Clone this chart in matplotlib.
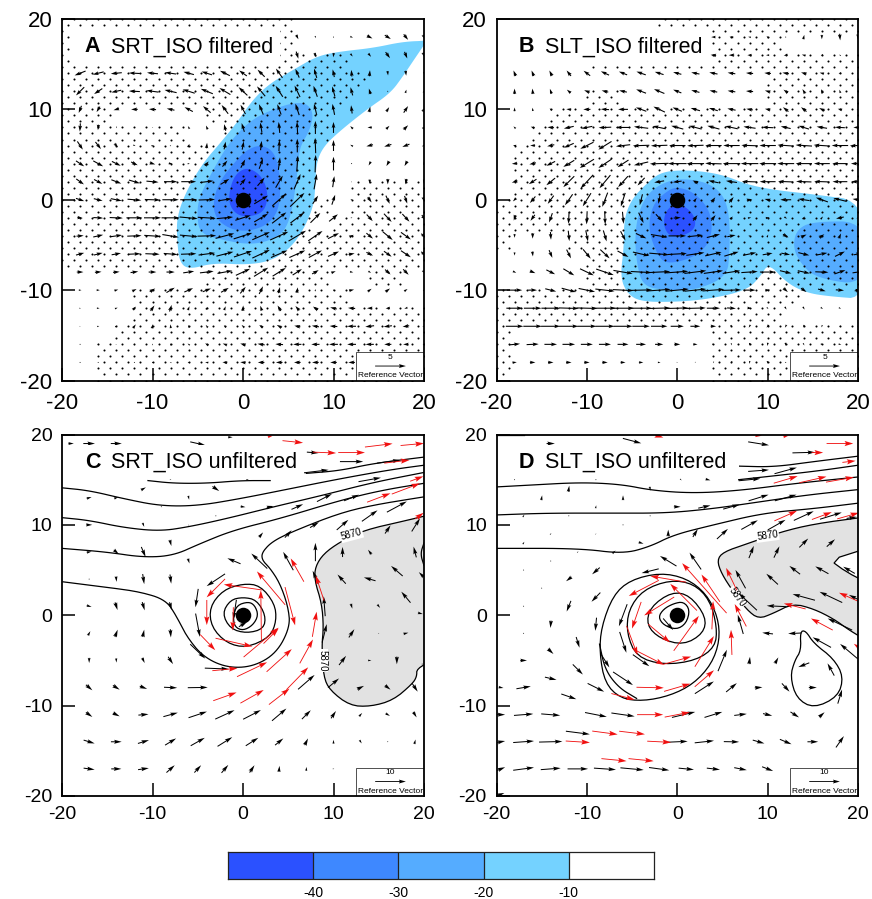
#!/usr/bin/python
import matplotlib
matplotlib.use("Agg")
import matplotlib.pyplot as plt
import numpy as np
from matplotlib.colors import ListedColormap

plt.rcParams["font.family"] = ["Liberation Sans", "DejaVu Sans"]
plt.rcParams["axes.unicode_minus"] = False

COLORS = ["#2B51FF", "#3E88FF", "#55ACFF", "#74D2FF", "white"]
CBAR_LEVELS = [-40, -30, -20, -10]

# filtered wind, rows y = 18..-18, columns x = -18..20, (u, v) in m/s
WIND_X = np.arange(-18, 21, 2)
WIND_Y = np.arange(18, -19, -2)
WIND_A = [
    [(0, 0)] * 12 + [(.4, -.8), (.1, -.4), (.1, -.1), (.5, -.2), (1, -.5), (1.1, -.7), (.8, -1), (.4, -.8)],
    [(0, 0)] * 12 + [(.4, -1.3), (.3, -.8), (-.1, -.8), (.4, -.5), (.5, -.6), (.8, -1.1), (.5, -1.2), (.3, -1)],
    [(-2, -.8), (-2, -.5), (-2, -.2), (-2, .1), (-2, .2), (-2, .3), (-1.9, .5), (-1.9, .6), (-1.8, .9), (-1.4, 1), (-1.3, 1.3), (-1.2, 1.7), (-.7, 1.6), (-.5, 1.7), (-.3, 1.4), (-.1, 1.2), (.1, 1.1), (.1, -.8), (.1, -.9), (0, -.5)],
    [(-1.5, -1.5), (-1.5, -1), (-1.8, -.4), (-2, .1), (-2.2, .3), (-2.2, .5), (-2.2, .7), (-2.2, .9), (-2, 1.2), (-1.6, 1.5), (-1.5, 1.8), (-1.3, 2), (-1, 2.1), (-.7, 2), (-.5, 1.8), (-.4, 1.5), (-.3, 1), (0, .3), (.2, .6), (.2, .5)],
    [(-.5, -1.3), (-.6, -1), (-1, -.3), (-1.2, 0), (-1.3, .1), (-1.4, .3), (-1.5, .8), (-1.4, 1.2), (-1.2, 1.6), (-.9, 1.7), (-.8, 1.9), (-.7, 1.9), (-.7, 2.1), (-.5, 2.1), (-.4, 2), (-.2, 1.5), (.2, 1), (.5, .8), (.8, 1.2), (.5, .8)],
    [(-.1, -1.5), (-.1, -1), (-.1, -.3), (0, 0), (-.2, 0), (-.2, .3), (-.3, .5), (-.3, .7), (-.3, 1.2), (-.5, 1.6), (-.3, 1.8), (-.2, 2), (-.1, 2.1), (0, 2.4), (0, 2), (-.5, .5), (-.8, 0), (.6, .6), (.8, .8), (.5, .5)],
    [(1, -1.5), (1, -1.3), (.6, -.7), (.4, -.2), (.4, .1), (.2, .2), (.3, .6), (.1, 1), (.3, 1.4), (.3, 1.5), (.2, 1.7), (.1, 2), (0, 2.5), (-.1, 2.8), (0, 2), (-.5, .3), (-1.2, -.3), (-1.3, -.4), (-1.3, -.5), (-.8, -.3)],
    [(1.5, -1), (1.8, -1), (1.6, -.8), (1.2, -.6), (1, -.3), (.7, -.1), (.4, .1), (.7, .8), (.9, 1.1), (.8, 1.5), (.7, 1.9), (.3, 2.3), (.2, 2.9), (.1, 3.2), (0, 2.5), (0, .1), (-.4, -.7), (-.5, -.9), (-.5, -.9), (-.3, -.6)],
    [(1.4, -1), (1.5, -.8), (1.8, -.7), (2, -.6), (2.2, -.2), (2.4, 0), (2.7, 0), (2.4, .3), (1.6, 1), (1, 1.2), (1.3, 1.5), (1.3, 2.2), (1.2, 2.8), (.5, 2.8), (.3, 2), (0, .2), (0, -.8), (0, -1), (-.2, -1), (-.1, -.8)],
    [(1.5, -.5), (1.6, -.4), (2, -.4), (2.5, -.2), (2.8, -.1), (3, 0), (3.1, 0), (3, .1), (2.5, .4), (1, .5), (2.5, 1.5), (2.5, 2.2), (2.6, 2.5), (1, 1.5), (.6, 1.8), (.3, -.1), (.7, -1), (.7, -1.5), (.5, -1.4), (.3, -1)],
    [(1, -.1), (1.8, -.1), (2.4, -.1), (2.9, 0), (3.1, 0), (3.3, 0), (3.3, -.3), (3.3, -.2), (3, .3), (2.8, .9), (2.5, 1.5), (2.6, 2), (2.5, 1.9), (1.8, 1.8), (1.6, 1.3), (.3, 0), (1.1, -1.2), (1.4, -1.5), (1.3, -1.4), (.8, -1)],
    [(1.3, .1), (1.8, .4), (2.1, .3), (2.6, .1), (3, -.2), (3, -.5), (3.2, -.3), (3.4, .1), (3.4, .9), (3.4, 1.1), (3.2, 1.4), (3.3, 1.5), (3.2, 1.9), (2.6, 1.8), (2, 1), (.8, .4), (1.2, -1), (1.8, -1.5), (1.8, -1.3), (1, -.8)],
    [(1.5, .4), (1.6, .4), (1.7, .3), (2.2, .1), (2.6, -.1), (2.5, -.2), (2.8, .1), (3, .4), (3.1, .8), (3.3, 1.1), (3.2, 1.5), (3, 1.3), (2.9, 1.3), (2.4, 1.3), (2, .9), (1.1, .2), (1.2, -.6), (1.4, -1), (1.8, -1.2), (1, -.8)],
    [(1.2, 0), (1.2, .1), (1.2, .1), (1.4, .2), (1.4, 0), (1.5, 0), (2, .3), (2.5, .3), (2.7, .5), (2.6, 1.2), (2.6, 1.6), (2.4, 1.5), (1.7, 1.1), (1.2, .7), (.8, .3), (.6, -.1), (.5, -.3), (1, -.9), (1, -1), (.5, -.5)],
    [(.5, 0), (.6, 0), (.7, .2), (.8, .4), (1, .6), (1.5, .9), (1.6, .7), (1.5, .6), (1.4, .8), (1, 1.2), (.7, 1.4), (.3, 1.1), (.2, 1), (.1, .4), (.1, -.1), (.9, .2), (.7, .5), (.8, .6), (.6, .4), (.3, .2)],
    [(.3, 0), (.5, 0), (.5, .2), (.6, .6), (.7, 1), (.4, 1.2), (.3, .7), (.3, .5), (.3, .7), (.1, 1), (-.3, .9), (-.6, 1), (-.7, .8), (-.9, .6), (-1.2, .3), (-1.3, .1), (-1, 0), (-.8, -.1), (-.6, -.2), (-.3, -.1)],
    [(.2, 0), (.4, .1), (.4, .2), (.5, .7), (.2, .8), (-.1, .7), (-.2, .5), (-.4, .5), (-.4, .4), (-.5, .5), (-.7, .5), (-.9, .5), (-1.1, .2), (-1.3, .2), (-1.4, .1), (-1.6, 0), (-1.6, -.2), (-1.5, -.2), (-1.2, -.2), (-.6, -.1)],
    [(.1, 0), (.1, 0), (.2, 0), (.1, .3), (0, .3), (-.2, .4), (-.4, .3), (-.6, .4), (-.8, .3), (-1, .3), (-1.3, .2), (-1.4, .1), (-1.5, 0), (-1.5, 0), (-1.6, 0), (-1.6, 0), (-1.5, 0), (-1.3, 0), (-1, 0), (-.5, 0)],
    [(.1, 0), (.1, 0), (.1, 0), (.1, 0), (-.1, 0), (-.3, .1), (-.4, .1), (-.6, .1), (-.9, .1), (-1, .1), (-1.2, 0), (-1.2, 0), (-1.2, 0), (-1.2, 0), (-1.2, 0), (-1.2, 0), (0, 0), (0, 0), (0, 0), (0, 0)],
]
WIND_B = [
    [(0, 0)] * 11 + [(-.8, 0), (-.7, .1), (-.5, .1), (-.4, .4), (0, 0), (.2, .8), (0, -.8), (.1, -1.2), (0, -1)],
    [(0, 0)] * 11 + [(-1, .1), (-1, 0), (-.8, 0), (-.6, 0), (-.7, -.2), (-.7, .2), (-.4, -.2), (-.3, .2), (0, 0)],
    [(-.4, 1), (-.4, 1), (-.5, 1), (-.8, 1), (-1.2, .9), (-1.5, .7), (-1.5, .6), (-1.7, .6), (-1.6, .5), (-1.5, .4), (-1.5, .3), (-1.5, .3), (-1.4, .2), (-1.3, .1), (-1.2, .1), (-1.2, .2), (-1, .3), (-.8, .2), (-.5, -.1), (-.3, 0)],
    [(0, 1), (-.1, 1), (-.3, .9), (-.7, .6), (-1, .4), (-1.2, .3), (-1.4, .3), (-1.8, .7), (-1.9, .8), (-1.5, .6), (-1.5, .4), (-1.4, .3), (-1.4, .2), (-1.3, .1), (-1, .3), (-.8, .6), (-.5, .8), (-.3, .8), (-.2, .6), (-.1, .3)],
    [(0, .7), (-.1, .6), (-.4, .4), (-.9, .1), (-1.3, 0), (-1.5, .1), (-1.8, 0), (-1.9, .7), (-2.1, 1), (-1.7, .7), (-1.7, .5), (-1.6, .5), (-1.5, .3), (-1.2, .2), (-1, .2), (-1, .8), (-1, .8), (-1, .5), (-.8, .2), (-.5, 0)],
    [(-.4, .4), (-.7, .3), (-1.2, .1), (-1.8, -.4), (-2, -.4), (-2.3, -.1), (-2.6, 0), (-2.6, .3), (-2.4, .5), (-2.2, .6), (-2.3, .6), (-2.2, .6), (-2.3, .5), (-2.2, .3), (-2, .1), (-1.8, .4), (-1.9, .6), (-1.9, .3), (-1.8, .1), (-1.7, 0)],
    [(-.6, .1), (-.9, 0), (-1.3, -.3), (-1.8, -.8), (-2.4, -1.2), (-2.4, -1.5), (-2.6, -.3), (-3, -.1), (-3, -.1), (-3, 0), (-3, -.1), (-3, 0), (-3, 0), (-3, .1), (-3, 0), (-3, .2), (-3, .2), (-3, .2), (-3, 0), (-3, -.1)],
    [(-1, -.1), (-1.2, -.3), (-1.6, -.8), (-2, -1.2), (-2.6, -1.6), (-2.4, -1.6), (-2, -1.3), (-2.6, -.6), (-3.4, -.1), (-3.4, 0), (-3.2, 0), (-3, .1), (-3.2, 0), (-3.2, 0), (-3.1, 0), (-3.1, 0), (-3, 0), (-2.9, 0), (-2.8, 0), (-2.6, 0)],
    [(-1, -.4), (-1.4, -.9), (-1.6, -1.3), (-2, -2), (-2.3, -2.5), (-2, -2.4), (-1.8, -2), (-1.3, -1.4), (-1.8, -.3), (-1.6, -.2), (-1, .4), (-1.8, .4), (-2, .3), (-2.8, .1), (-2.9, 0), (-2.8, .1), (-2.8, .1), (-2.8, .1), (-2.7, 0), (-2.5, 0)],
    [(-.6, -.6), (-1, -1.2), (-1.1, -1.5), (-1.4, -2), (-1.5, -2.4), (-1, -2.6), (-.8, -2.5), (-.5, -2), (-.3, -1.5), (0, -.1), (.5, .7), (.7, .9), (.8, 1), (1, .2), (-1.1, .3), (-2, 0), (-2, .3), (-2.2, .8), (-2.4, .6), (-2, .3)],
    [(-.3, -1), (-.8, -1.1), (-.6, -1.7), (-.1, -2.2), (-.1, -2.4), (.1, -2.4), (.2, -2.2), (.9, -1.9), (1.2, -1.3), (1.3, .1), (.8, 1), (.8, 1), (.5, .5), (.6, .1), (.7, .1), (.5, -.3), (.4, .5), (.4, .5), (-1.4, -.3), (-.6, -.2)],
    [(0, -.7), (0, -1), (.1, -1.4), (.2, -1.9), (.4, -2), (.6, -2), (.9, -1.7), (1.9, -.9), (3, -.5), (3.2, 0), (2.8, .3), (2.4, .6), (1.5, .3), (.3, -.1), (.2, .5), (1, -.6), (1, .5), (.9, .6), (.4, .9), (.2, .4)],
    [(0, -.6), (.1, -.9), (.6, -1.4), (.8, -1.6), (1.4, -1.7), (1.7, -1.6), (2, -1.1), (3, -.7), (3.6, -.3), (3.5, .2), (3.3, .5), (3, .7), (2.6, .8), (2.4, .5), (1.8, .3), (1.6, -.3), (2, -.5), (2, .4), (1.8, .9), (1.5, .3)],
    [(.6, -.3), (1, -.4), (1.6, -.8), (2, -1.2), (2.5, -1.2), (3.2, -1.1), (3.5, -.6), (3.8, -.2), (4, .2), (4, .3), (4, .5), (3.5, .5), (3.2, .5), (3, .2), (2.8, 0), (2.1, -.5), (2.2, -.5), (2.4, -.1), (2, .7), (2, .3)],
    [(2.8, 0), (1.6, 0), (2, -.5), (2.6, -.7), (3, -.6), (3.5, -.4), (3.8, -.2), (4, .1), (4.2, .3), (4.2, .4), (4, .4), (4, .3), (3.5, .1), (2.2, 0), (.9, .1), (.8, -.7), (1, -.7), (1.4, -.4), (1.5, -.1), (1.2, .3)],
    [(3, 0), (3.2, 0), (3.4, 0), (3.6, -.1), (3.8, -.1), (4, 0), (4, 0), (4, 0), (4, .1), (4, .1), (3.8, .1), (2.4, 0), (1.6, -.1), (.8, -.1), (.3, -.3), (.3, -.5), (.3, -.5), (.4, -.3), (.4, -.2), (.2, -.1)],
    [(3.2, 0), (3.4, 0), (3.5, 0), (3.5, 0), (3.5, 0), (3.5, 0), (3.5, 0), (3.2, 0), (3, 0), (2.4, 0), (1.8, 0), (1, 0), (.3, -.4), (-.3, -.5), (-.4, -.5), (-.3, -.5), (-.1, -.5), (-.2, -.4), (-.2, -.2), (-.1, -.1)],
    [(2, .2), (2.2, .1), (2.3, 0), (2.3, 0), (2.2, 0), (2.2, 0), (2, 0), (1.8, 0), (1.5, 0), (1.1, 0), (.8, 0), (.4, -.1), (.1, -.4), (-.1, -.5), (-.1, -.6), (.1, -.6), (.2, -.4), (.4, -.2), (.5, -.1), (.3, 0)],
    [(.8, .1), (1, 0), (1, 0), (1, 0), (1, 0), (1, 0), (.9, 0), (.8, 0), (.5, 0), (.2, -.1), (.1, -.2), (-.1, -.3), (-.2, -.4), (-.1, -.5), (.1, -.5), (0, 0), (0, 0), (0, 0), (0, 0), (0, 0)],
]

# significance mask, 2 degree cells, rows from y = 20 down, columns from x = -20
SIG_A = [
    "#############.......", "#############.......", "################....",
    "#################...", "################....", "###.....#######.....",
    "#######..######.....", "##############......", "##############......",
    "##############..####", "###############.####", "##############.#####",
    "####################", "####################", "........#######..##.",
    "....############....", "....################", "...#################",
    "..##################", "..##################",
]
SIG_B = [
    ".........###########", "............####....", ".....###############",
    "...............#####", ".....##........#####", "...#################",
    "..##################", ".###################", ".###################",
    ".###################", "####################", "####################",
    "#...################", ".....###############", ".....###############",
    "#################...", "################....", "#...........########",
    "#...........########", "#...........########",
]

# unfiltered wind (x, y, u, v)
BLACK_C = [
    (-17, -17, 3.6, -.5), (-14, -17, 3.3, 0), (-11, -17, 3.5, .5), (-8, -17, 2.7, 2.4), (-5, -17, 2.2, 2.4), (-2, -17, 2.2, 2.6), (1, -17, 1.6, 2.4), (4, -17, .2, 2), (7, -17, .1, 1.3), (10, -17, .5, 0),
    (-17, -14, 3.6, -1.1), (-14, -14, 3.5, 0), (-11, -14, 3.6, 1.1), (-8, -14, 3.6, 2.2), (-5, -14, 4.6, 2.6), (-2, -14, 4.8, 3), (1, -14, 4.1, 2.6), (4, -14, 2.7, 2.2), (7, -14, 1.1, 2.2), (10, -14, 0, 1.3), (13, -14, .7, -1.1), (16, -14, .5, 0), (19, -14, .4, 1.5),
    (-17, -11, 2.1, -1.5), (-14, -11, 2.2, -1.1), (-11, -11, 3.3, .3), (-8, -11, 4.7, 1.3), (-5, -11, 6, 2), (-2, -11, 6.3, 2.9), (1, -11, 5.8, 3), (4, -11, 4.7, 4), (7, -11, 2.9, 2.9), (10, -11, 1.6, 2.4), (13, -11, 1, 1.1), (16, -11, 1.4, -.8), (19, -11, 1.1, -1.8),
    (-17, -8, 2.1, -1.8), (-14, -8, 2.2, -1.4), (-11, -8, 2.4, -.9), (-8, -8, 4.3, -.2), (-5, -8, 6.5, .1), (7, -7.4, 5.4, 4.7), (10, -7.5, 3.6, 3), (13, -8, 2.2, 1.1), (16, -8, 1.8, -1.4), (19, -8, 1.8, -2.7),
    (-17, -5, 0, -1.7), (-14, -5, .1, -1.4), (-11, -5, .8, -1.7), (-8, -5, 1.6, -2.4), (-5, -4, 4.9, -4.7), (-2.9, -5.9, 7.8, -.3), (11, -5, 2.3, 3), (14, -5, 1.1, 0), (17, -5, 0, -2.5), (19.8, -5.4, .3, 0),
    (-17, -2, .8, 1.4), (-14, -2, .9, 2.4), (-11, -2, .5, 2.4), (-8, -2, .2, -2.7), (-5, -1.1, 1.4, -7.6), (12, -2, 1.8, 2.7), (15, -2, .4, 0), (18, -2, 1.6, .4), (9, -2, 1.5, 6), (9, 1, -.5, 6.5), (8, 4.2, -1.8, 4.3),
    (-17, 1, 1.6, -.5), (-14, 1, .8, -2.5), (-11, 1, .8, -2.7), (-8, 1, .7, -2.6), (-5.1, 1.9, -.9, -6), (-.9, .6, -1, -6.5), (0, -1, 2.7, 1.6), (12, 1, .5, -1.6), (15, 1, .9, -1.1), (19.6, .2, 1.6, -.4),
    (-17, 4, .3, 0), (-14, 4, .2, -1.8), (-11, 4, .5, -3.3), (-8, 4, .4, -3), (-3, 3.9, -6, -4), (10.9, 4, -2.7, 3), (14, 4, -3.8, 1.1), (18, 2, -3, 3.6), (17, 4.9, -3.8, 3.3), (19.7, 4.5, -1.6, 1.6),
    (-17, 7, 1.6, .3), (-14, 7, 1.6, -1.4), (-11, 7, 1.4, -3.3), (-8, 8, .5, -2), (-6, 6, .5, -1.6), (-1, 6, -4.3, 1.8), (1.8, 6, -5.2, 4.9), (5, 6, -3.3, 6), (8, 7, 0, 6), (11, 7, 0, 3.3), (14, 7, -1.1, 1.5), (19, 7, -.9, 3.5), (16, 9.5, 1.8, 2.7), (19.1, 10, 2.7, 4.3),
    (-17, 10, 2, 0), (-11, 10, .5, -1.3), (-6, 10, 0, .4), (-3, 11, .2, 0), (2, 8.9, 1.3, 1.6), (5, 9, 2.2, 2.4), (7.9, 10, 2.9, 1.8), (11, 10, 3.8, 3.3), (14, 11, 5.1, 3.6), (17, 12, 6.5, 3.5),
    (-17, 13, 1.6, .5), (-14, 13, 1.4, .5), (-11, 14, 1.6, .9), (-9, 12, .4, -.4), (-6, 13, .3, -1.3), (-3, 14, 2.2, -1.5), (0, 12, 1.6, -.2), (3, 12, 2.2, .5), (6, 12, 3.8, 1.7), (9, 13, 4.9, 2.5), (12, 13, 4.9, 2),
    (14, 15, 7.3, 1.3), (7.9, 15.9, 9.2, 1.1), (-8, 15, .5, 0), (.5, 15, .8, 0),
    (-19, 19, 1.8, 0), (-17, 19, 3.8, 0), (-14, 19, 3.6, 0), (-5, 19, 4.9, -1.1), (-1.4, 19.7, 1.5, 0), (7.7, 18, 3.8, -.3), (12, 17, 7.6, 0), (16.1, 17, 7.6, 1),
]
RED_C = [
    (15, 18.8, 9, 1.1), (18.7, 18.9, 7.6, .7), (5.5, 19.2, 6.7, -.7), (3, 19.8, 1.6, .3), (9, 18, 7.6, -.3), (12, 18, 8.7, 0), (17, 17, 8.2, 1), (19.2, 15.1, 4.3, 1.6), (15, 13, 7.6, 2.9), (18, 14, 9.2, 3.5), (19.5, 11, 2.7, 2),
    (6, 5, -4.3, 7.6), (8.5, 3, -2.7, 8.2), (3.1, 3, -9.2, 10.9), (-3, 3, -6, -6), (0, 3.1, -12.5, 1.8), (2, 0, -.2, 16.3), (2, -3, 11.4, 9.6), (-1, -3, 12, -2.7), (-3.9, -3, 4.9, -5.1), (-1.1, -.4, -.2, -7.6), (-4, .3, 0, -8.2), (5.2, 1, 3.3, -12.5),
    (4, -5, 8.2, 7.4), (1, -6, 9.8, 4.7), (-2, -6, 8.2, .8), (7, -4, 4.3, 7.8), (7.9, -1, 1.4, 8.2), (-2, -9, 7.6, 2.7), (1, -9, 7.6, 4.3), (4, -9, 6.7, 5.2), (6, -7, 7.1, 7.3), (3.1, -2.3, 4.9, 4.9),
]
BLACK_D = [
    (-14, 19, 2.7, 0), (-5, 19.3, 6, -1.6), (9, 19, 6.8, -1.1), (14, 18, 7.4, .2), (9, 16, 6.8, .5), (12, 16, 7.3, 2), (8, 15, 7.1, .7), (9, 13, 6.5, 2), (12, 13, 7.1, 2), (6, 12, 5.4, 1.5), (3, 12, 4, .9), (0, 12, 2.2, 0), (-3, 14, .3, -1.3), (.4, 15, .5, -.5), (3.4, 15, 1.6, -.4),
    (-18, 15, .3, 0), (-9, 15, .3, 0), (-12, 14, .3, 2), (-15, 13, .3, 1.6), (-6, 13, 0, 1.6), (-9, 12, .2, 1), (-12, 11, .3, 0), (-3, 11, .3, 0), (-17, 11, .5, .8), (-14, 9, .5, .4), (-9, 9, .3, .3), (-6, 10, .3, 0), (-17, 8, .5, .8), (-11, 7, .5, .3), (-7, 7, 1.1, .9), (-4, 8, 1.6, -.5),
    (-1, 9.1, 0, 2.2), (2, 9.1, 1.6, 2.6), (5, 9, 3.6, 3.3), (8, 10, 5.4, 3), (11, 10, 5.8, 3.3), (14, 11, 6.5, 3), (17, 11, 7.1, 2.2), (19.3, 10.8, 3.3, .5), (8.2, 7, 1.6, 4), (11, 7, 1.8, 3.7), (14, 8, 2.9, 2.9), (17, 8, 2.7, 2.4),
    (-1, 6, -5.4, 3.3), (2, 6, -3.8, 5.5), (7, 4, -3.3, 6), (10.5, 4, -3.8, 3.5), (13, 5, -3.5, 2.7), (16, 5, -4.3, 2.4), (19, 5, -3.8, 2.2), (14, 2, -7.3, 2), (17, 2, -7.4, 3.5), (19.5, 2, -3, 1.5), (11, 1, -6.5, .3), (7.8, 1.5, -6, 5.6),
    (-17, 5, .3, 0), (-14, 6, .3, 0), (-9, 4.9, -2.5, -2.2), (-12, 4, -1.8, -1.4), (-15, 3, .3, 0), (-17, 1, .3, 0), (-9, 2, -2.9, -3), (-12, 1, -1.4, -3.5), (-14, -1, -.2, -2.4), (-17, -2, .3, 0), (-9, -1, -.4, -4.3), (-11, -3, 1.1, -3.5), (-14, -4, 1.8, -1.7), (-17, -5, 2.2, 0),
    (-11, -6, 3.3, -3.3), (-14, -7, 3.8, -.9), (-17, -8, 4.7, .8), (-19.5, -8, 1.6, -.3), (-9, -8, 5.4, -2.7), (-12, -9, 4.9, -1.7), (-6, -7, 6.5, -4.3), (-3, 4.9, -5.6, -1.4), (-6, 0, -2.7, -7.2), (-6, -3, 2.2, -6.8), (-4, -5, 5.4, -3.8), (-8, -5, 2.9, -4.6), (-1, -1, 3.3, -3.8),
    (3, -8, 6.2, 4), (5, -5, 2.9, 7), (6, -8, 3.5, 2.9), (9, -8, 2.5, .2), (8, -5, .3, 2.4), (11, -5, 1.1, 2), (7, -1, -1.8, 6.3), (10, -2, -3.5, .4), (13, -2, -4.3, -.2), (16, -3, -6, 3.3), (19, -4, -5.8, 4.9), (18, -1, -8, 3.8), (14, -5.5, -3.6, -1.4), (17, -6, -2.2, 4), (12, -8, 2.5, -2.7), (15, -8, 2.6, 0), (18, -9, 1.4, 4.6),
    (-19.5, -11, 2.7, 0), (-17, -11, 6.3, .5), (-14, -11, 6.2, -.5), (-9, -11, 7.1, -1.4), (-6, -11, 7.6, -1.1), (.7, -11, 7.6, 1.8), (4, -11, 5.8, 1.8), (7, -11, 4.1, .5), (10, -11, 3, -.7), (13, -11, 2.8, -1.8), (16, -11, 1.8, 1.6),
    (-19.5, -14, 2.7, .5), (-17, -14, 6.8, .5), (-14, -14, 7.6, .2), (-11, -13, 7.8, -1), (0, -14, 6.8, .3), (3, -14, 6.3, .7), (6, -14, 5, -.1), (9, -14, 3.8, -1.1), (12, -14, 3.8, -1.6), (15, -14, 3.5, 0), (18, -14, 2.6, 3.7),
    (-19.5, -17, 2.7, 1.1), (-17, -17, 6.8, .9), (-14, -17, 6.5, .5), (-11, -17, 6.7, 0), (-8, -17, 7.2, -.5), (-5, -17, 7.6, -.7), (-2, -17, 6.6, -.9), (1, -17, 5, -.5), (4, -17, 4.3, -.5), (7, -17, 4.1, -.8), (10, -17, 3.6, -1.4), (-19.5, -19.8, 2.2, .8),
]
RED_D = [
    (18, 19, 8.7, 0), (15.5, 18, 3.8, 0), (-2, 19.8, 2.7, -.8), (9, 19.9, 2.2, -.2), (12, 19.8, 1.6, .3), (19, 17, 4.3, .5), (12, 15, 7.8, 2.3), (15, 15, 8.9, 2), (18, 15, 9.1, 1.6), (12, 11, 7.4, 3.3), (16, 11, 6.5, 2.4), (18.9, 11, 7.1, 2),
    (-1, 4, -11.7, 2), (-3.7, 3, -9.8, -5.1), (3, 3, -14.5, 16.3), (3.7, 3, -6, 8.9), (7, 0, -3.8, 7.3), (6, 4, -3.5, 7.3), (6, -3, -.3, 8.2), (-2, 1, -9.8, -6), (.7, 2, -8.7, 8.7), (-2, -2, 7.1, -6), (1, -2, 8.2, 11.4), (-4.5, 0, -3, -8.7), (-5, -2.8, 3.6, -9.6), (-3, -4.7, 9.2, -4.7), (0, -5, 9, 2.5), (3, -4, 6.2, 10), (3.9, 0, .4, 9.2), (3, -7, 6.3, 5.4),
    (-3, -8, 8.9, -.2), (0, -8, 8.6, 2.5), (-6, -9, 7.6, -2), (-3, -11, 8.5, 0), (0, -11, 8.2, 1.6), (-8, -13, 8.3, -1.1), (-5, -13, 8.4, -1), (-11, -14, 7.9, -.5), (-2, -14, 7.8, -.4), (-7, -16, 8.2, -.8), (-4, -16, 8.2, -.8), (16, -1, -7.1, 3.8), (13, 1, -7.1, 1.8), (19, 2, -6.5, 2.9), (20, -3.5, -2.7, 2),
]

# OLR anomaly regions, one outline per level (-10, -20, -30, -40)
FILL_A = [
    [(20.6, 17.6), (17.7, 17.5), (14.4, 16.8), (10.7, 16.4), (8.2, 15.9), (5.6, 14.4), (3, 12.9), (1.1, 11.1), (-.7, 8.5), (-2.5, 6.3), (-4.4, 4.1), (-6.2, 1.1), (-7.3, -1.8), (-7.3, -4.4), (-7, -7), (-5.9, -7.7), (-3.3, -7), (.4, -7.2), (3, -6.8), (5.2, -5.4), (6.7, -3.3), (7.8, -.7), (8, 1.5), (8.1, 4.1), (8.9, 5.9), (10.7, 7.6), (13.7, 10), (16.3, 11.8), (17.7, 13.7), (18.9, 15.5), (20.6, 18)],
    [(5.6, 10.7), (7, 10.7), (7.8, 9.6), (7.4, 7.7), (6.3, 5.9), (6.1, 4.1), (5.8, 1.1), (5, -3), (3.4, -4.4), (.8, -5), (-2.5, -4.4), (-4.8, -3.7), (-5.1, -1.5), (-4.8, .4), (-3.3, 3.3), (-1.8, 5.9), (-.3, 7.7), (1.5, 9.2), (4.1, 10.3)],
    [(1.9, 6.1), (3.4, 5.4), (4.1, 3), (4.1, -.7), (3, -2.6), (.8, -3.5), (-1.4, -3.3), (-3.1, -2), (-3.3, 0), (-2.5, 2.2), (-.7, 4.4), (.4, 5.5)],
    [(.6, 3.6), (2.1, 2.6), (2.8, .7), (2.4, -1.3), (.8, -1.9), (-.7, -1.7), (-1.6, -.4), (-1.4, 1.5), (-.7, 3)],
]
FILL_B = [
    [(.3, 3.3), (3.2, 3.1), (5.5, 2.6), (7.7, 1.7), (10.6, 1.1), (15.1, .6), (21, -.2), (21, -11), (16.9, -10.7), (14.3, -10.3), (12.1, -9.2), (10.1, -7), (9.2, -8.5), (7.7, -10), (4, -10.9), (.3, -11.3), (-4.1, -11.3), (-5.6, -10.3), (-6.3, -8.5), (-5.9, -5.2), (-5.9, -2.2), (-5.1, 0), (-3.4, 1.8), (-1.9, 3)],
    [(-.1, 2.4), (3.2, 2), (5.1, .6), (5.8, -1.8), (5.8, -5.9), (5.5, -8.5), (2.1, -10), (-1.2, -10), (-3.8, -9.6), (-4.5, -7), (-4.7, -3.7), (-4.1, -.7), (-2.7, 1.3)],
    [(-.1, 1.5), (2.1, .7), (3.8, -1.5), (3.8, -4.4), (2.1, -6.3), (-1.2, -7.2), (-2.3, -5.9), (-3.2, -3.3), (-2.8, -.7), (-1.5, .7)],
    [(.3, -.4), (1.8, -1.5), (2.1, -3), (1, -3.9), (-.8, -4.1), (-1.5, -3), (-1.4, -1.5), (-.6, -.6)],
]
FILL_B_EAST = [(21, -2.4), (15, -2.4), (13.2, -3.3), (12.8, -5.2), (13.6, -7), (15.4, -8.7), (21, -9.5)]

# geopotential height, grey is above 5870
GREY_C = [(21, 11.2), (18.1, 10.5), (13.3, 9.4), (10.7, 8.1), (8.9, 6.8), (8, 5.4), (7.9, 3.9), (8.7, 1.3), (8.9, -1.3), (8.7, -3.5), (8.9, -6.8), (9.6, -8.3), (11.8, -10), (14.1, -10.1), (16.6, -9.4), (18.7, -7.6), (19.2, -6.8), (19.2, -5.9), (21, -5)]
GREY_D = [(21, 10.9), (15.1, 10.1), (11.4, 9.2), (7.7, 7.9), (5.1, 7), (4.4, 6.1), (4.9, 4.6), (6.2, 2.6), (7.7, .6), (9, -.4), (10.6, .2), (12.8, 1.3), (15.1, .7), (17.3, -.4), (19.1, -1.7), (21, -2.8)]
NOTCH_D = [(21, 7.4), (16.9, 6.1), (18.7, 4.8), (21, 3.6)]
OPEN_C = [
    [(-10.5, 14.9), (-7.7, 14.6), (-4, 14.6), (-.3, 14.9), (3, 14.9)],
    [(7, 15.7), (10.7, 16), (14.4, 16.8), (20, 17.5)],
    [(-20, 14.1), (-17, 13.8), (-13.2, 12.9), (-9.2, 12.1), (-5.1, 12.1), (-.3, 12.9), (5.2, 14), (10.7, 15.1), (16.3, 16.1), (20, 16.6)],
    [(-20, 10.8), (-17, 10.5), (-13.2, 9.7), (-9.2, 9.3), (-5.9, 9.8), (-1.8, 10.7), (3.4, 12), (8.9, 13.3), (14.4, 14.7), (20, 15.8)],
    [(-20, 7.4), (-15.1, 7), (-11, 6.4), (-7.7, 6.6), (-4.8, 7.9), (-1.1, 9.4), (4.1, 10.7), (10.7, 12.7), (15.2, 13.8), (20, 14.6)],
    [(-19.9, 3.7), (-15.1, 3.1), (-11.4, 2.6), (-8.5, 1.7), (-7.3, -.2), (-6.2, -2.4), (-4.4, -4.6), (-1.8, -5.8), (1.1, -5.7), (3.7, -4.2), (5.2, -1.3), (5, .9), (4.1, 3.5), (3, 5.2), (2.1, 6.1), (2.1, 7), (3.4, 8.3), (6.3, 9.6), (10.7, 11.3), (14.4, 12.2), (20, 13.1)],
    [(20, 8), (19.6, 6.8), (20, 5.5)],
]
RINGS_C = [
    [(0, 3.5), (1.9, 3.3), (3.5, 1.3), (3.7, -.6), (3, -2.4), (.4, -3.6), (-1.8, -3.1), (-3.5, -1.3), (-3.7, .9), (-2.2, 2.8)],
    [(0, 2), (1.5, 1.7), (2.5, 0), (2.3, -1.5), (.4, -2), (-1.4, -1.5), (-2.3, .2), (-1.4, 1.7)],
    [(.6, 1.5), (1.3, 1.1), (1.7, 0), (1.1, -1.1), (0, -1.7), (-.9, -1.3), (-1.1, -.2), (-.7, 1.1)],
]
OPEN_D = [
    [(-20, 19.9), (-17, 19.9)],
    [(6.8, 16.5), (10.6, 16.4), (15.1, 17), (20, 17.6)],
    [(6.8, 15), (11.4, 15.5), (15.8, 16), (20, 16.6)],
    [(-20, 14.2), (-16.3, 14.4), (-10.8, 14.7), (-6.3, 14.5), (-2.7, 13.8), (1.8, 13.5), (6.9, 13.8), (13.2, 14.6), (20, 15.3)],
    [(-20, 11.1), (-14.5, 11.3), (-7.1, 11.3), (-1.2, 11.3), (4, 11.8), (8.8, 12.5), (14.3, 13.3), (20, 13.9)],
    [(-20, 7.4), (-10.8, 7.4), (-6, 6.8), (-3, 7.6), (-.4, 8.9), (4, 10), (9.5, 11.3), (15.1, 11.8), (20, 12.4)],
    [(-8.6, -3.2), (-8, -6), (-6.5, -8), (-4.5, -9.2)],
]
RINGS_D = [
    [(-5.2, 3.9), (-1.9, 4.7), (1, 4.1), (3.2, 2.4), (4.5, -.2), (4.7, -2.8), (3.8, -5.4), (1.8, -7.6), (-.8, -8.9), (-3.8, -9.5), (-6.3, -9.2), (-8, -7.5), (-8.6, -4.2), (-8.4, -1.3), (-7.1, 2.2)],
    [(-.8, 3.9), (1.8, 3.5), (3.6, 1.7), (4.4, -1.3), (4.2, -3.5), (2.1, -5), (-1.5, -5.5), (-4.5, -4.6), (-5.6, -2), (-5.4, .6), (-3.8, 2.8)],
    [(-.6, 2.6), (1.4, 2.2), (3.2, -.2), (2.9, -2), (.7, -3.3), (-1.9, -2.6), (-3.4, -1.1), (-3, .9)],
    [(-.4, 1.3), (.7, 1.5), (1.4, .6), (1, -.9), (-.1, -1.6), (-1.5, -1.1), (-2.1, -.2), (-1.5, .7)],
    [(13.6, -1.8), (14.2, -1.7), (15.1, -3.1), (17.3, -4.8), (18.4, -6.8), (17.8, -9), (15.1, -10.3), (13.2, -9.2), (12.5, -6.8), (13, -5), (13.7, -3.9)],
]

TICKS = [-20, -10, 0, 10, 20]
TICK_LABELS = ["-20", "-10", "0", "10", "20"]
W, H = 872.0, 899.0


def smooth(points, closed=True, n=3):
    # corner cutting so the outlines do not look faceted
    p = np.array(points, dtype=float)
    for _ in range(n):
        q = np.roll(p, -1, axis=0) if closed else p[1:]
        a = p if closed else p[:-1]
        new = np.empty((2 * len(a), 2))
        new[0::2] = .75 * a + .25 * q
        new[1::2] = .25 * a + .75 * q
        p = new if closed else np.vstack([points[0], new, points[-1]])
    return p


def make_axes(left, top, right, bottom, size, xpad):
    ax = fig.add_axes([left / W, 1 - bottom / H, (right - left) / W, (bottom - top) / H])
    ax.set_xlim(-20, 20)
    ax.set_ylim(-20, 20)
    ax.set_xticks(TICKS, TICK_LABELS)
    ax.set_yticks(TICKS, TICK_LABELS)
    ax.tick_params(direction="in", length=9.4, width=1.1, labelsize=size, pad=7)
    ax.tick_params(axis="x", pad=xpad)
    for spine in ax.spines.values():
        spine.set_linewidth(1.3)
        spine.set_zorder(20)
    return ax


def quiv(ax, x, y, u, v, scale, color="black", zorder=6, width=.003, hw=3.4, hl=5.5, ha=4.8):
    return ax.quiver(x, y, u, v, angles="xy", scale_units="xy", scale=scale, pivot="mid", color=color,
                     units="width", width=width, headwidth=hw, headlength=hl, headaxislength=ha, zorder=zorder)


def stipple(ax, mask):
    xs, ys = [], []
    for j in range(61):
        y = -20 + 2 / 3 * j
        for i in range(31):
            x = -20 + 4 / 3 * (i + .5 * (j % 2))
            row = min(int((20 - y) / 2), 19)
            col = min(int((x + 20) / 2), 19)
            if mask[row][col] == "#" and x <= 20:
                xs.append(x)
                ys.append(y)
    ax.scatter(xs, ys, s=2.2, c="black", linewidths=0, zorder=5)


def ref_box(ax, value, scale):
    ax.fill([12.5, 20, 20, 12.5], [-20, -20, -16.85, -16.85], fc="white", ec="#333333", lw=.6, zorder=10)
    ax.text(16.3, -17.4, str(value), fontsize=6, ha="center", va="center", zorder=11)
    quiv(ax, [16.3], [-18.4], [value], [0], scale, zorder=11, width=.0024, hw=4.5, hl=8, ha=7)
    ax.text(16.3, -19.45, "Reference Vector", fontsize=6, ha="center", va="center", zorder=11)


def labels(ax, letter, title, box_x, box_y):
    ax.fill([box_x[0], box_x[1], box_x[1], box_x[0]], [box_y[0], box_y[0], box_y[1], box_y[1]],
            color="white", lw=0, zorder=8)
    ax.text(-14.6, 16.3, title, fontsize=15.5, va="baseline", zorder=12)
    ax.text(-17.5, 16.3, letter, fontsize=15.5, fontweight="bold", va="baseline", zorder=12)


def center(ax):
    ax.scatter([0], [0], s=125, c="black", linewidths=0, zorder=9)


def split(rows):
    a = np.array(rows, dtype=float)
    return a[:, 0], a[:, 1], a[:, 2], a[:, 3]


fig = plt.figure(figsize=(8.72, 8.99), dpi=100)

# top row, filtered
for (left, right), wind, fills, mask, letter, title, box_x in [
    ((62, 424), WIND_A, FILL_A, SIG_A, "A", "SRT_ISO filtered", (-19, 4.1)),
    ((496.5, 858), WIND_B, FILL_B, SIG_B, "B", "SLT_ISO filtered", (-18.2, 3.6)),
]:
    ax = make_axes(left, 19, right, 380.5, 16, 9)
    for level, outline in enumerate(fills):
        xy = smooth(outline)
        ax.fill(xy[:, 0], xy[:, 1], color=COLORS[3 - level], lw=0, zorder=2 + level * .1)
    if letter == "B":
        xy = smooth(FILL_B_EAST)
        ax.fill(xy[:, 0], xy[:, 1], color=COLORS[2], lw=0, zorder=2.1)
    stipple(ax, mask)
    rows = np.array(wind, dtype=float)
    xx, yy = np.meshgrid(WIND_X, WIND_Y)
    quiv(ax, xx.ravel(), yy.ravel(), rows[:, :, 0].ravel(), rows[:, :, 1].ravel(), 1.65)
    center(ax)
    labels(ax, letter, title, box_x, (15.1, 19))
    ref_box(ax, 5, 1.47)

# bottom row, unfiltered
for (left, right), black, red, grey, lines, rings, letter, title, lab, box_x in [
    ((62, 424), BLACK_C, RED_C, GREY_C, OPEN_C, RINGS_C, "C", "SRT_ISO unfiltered", [(12, 8.9, 15), (8.8, -5, -90)], (-18, 6.7)),
    ((496.5, 858), BLACK_D, RED_D, GREY_D, OPEN_D, RINGS_D, "D", "SLT_ISO unfiltered", [(10, 8.8, 8), (6.6, 2, -55)], (-18.2, 6.8)),
]:
    ax = make_axes(left, 434.5, right, 796, 14, 7)
    xy = smooth(grey, closed=False, n=2)
    ax.fill(xy[:, 0], xy[:, 1], fc="#E2E2E2", ec="black", lw=.9, zorder=2)
    if letter == "D":
        xy = smooth(NOTCH_D, closed=False, n=1)
        ax.fill(xy[:, 0], xy[:, 1], fc="white", ec="black", lw=.9, zorder=2.1)
    for line in lines:
        xy = smooth(line, closed=False)
        ax.plot(xy[:, 0], xy[:, 1], color="black", lw=.9, zorder=3)
    for ring in rings:
        xy = smooth(ring, n=2)
        ax.fill(xy[:, 0], xy[:, 1], fc="none", ec="black", lw=.9, zorder=3)
    for x, y, rot in lab:
        ax.text(x, y, "5870", fontsize=7, rotation=rot, ha="center", va="center", zorder=4,
                bbox=dict(fc="white", ec="none", pad=.5))
    quiv(ax, *split(black), 2.95, width=.0028, hw=4, hl=7.5, ha=6.5)
    quiv(ax, *split(red), 2.95, color="#F01010", zorder=7, width=.0024, hw=6, hl=10, ha=8.5)
    center(ax)
    labels(ax, letter, title, box_x, (15.5, 18.8))
    ref_box(ax, 10, 2.95)

# colour bar
cax = fig.add_axes([228 / W, 1 - 879 / H, (654 - 228) / W, 27 / H])
bounds = np.array([-50] + CBAR_LEVELS + [0])
cax.pcolormesh(bounds, [0, 1], np.arange(5).reshape(1, 5), cmap=ListedColormap(COLORS), vmin=0, vmax=4)
for level in CBAR_LEVELS:
    cax.axvline(level, color="#222222", lw=.9)
cax.set_yticks([])
cax.set_xticks(CBAR_LEVELS, ["-40", "-30", "-20", "-10"])
cax.tick_params(length=0, labelsize=10, pad=5)
for spine in cax.spines.values():
    spine.set_linewidth(.9)
    spine.set_color("#222222")

fig.savefig("out.png", dpi=100)
